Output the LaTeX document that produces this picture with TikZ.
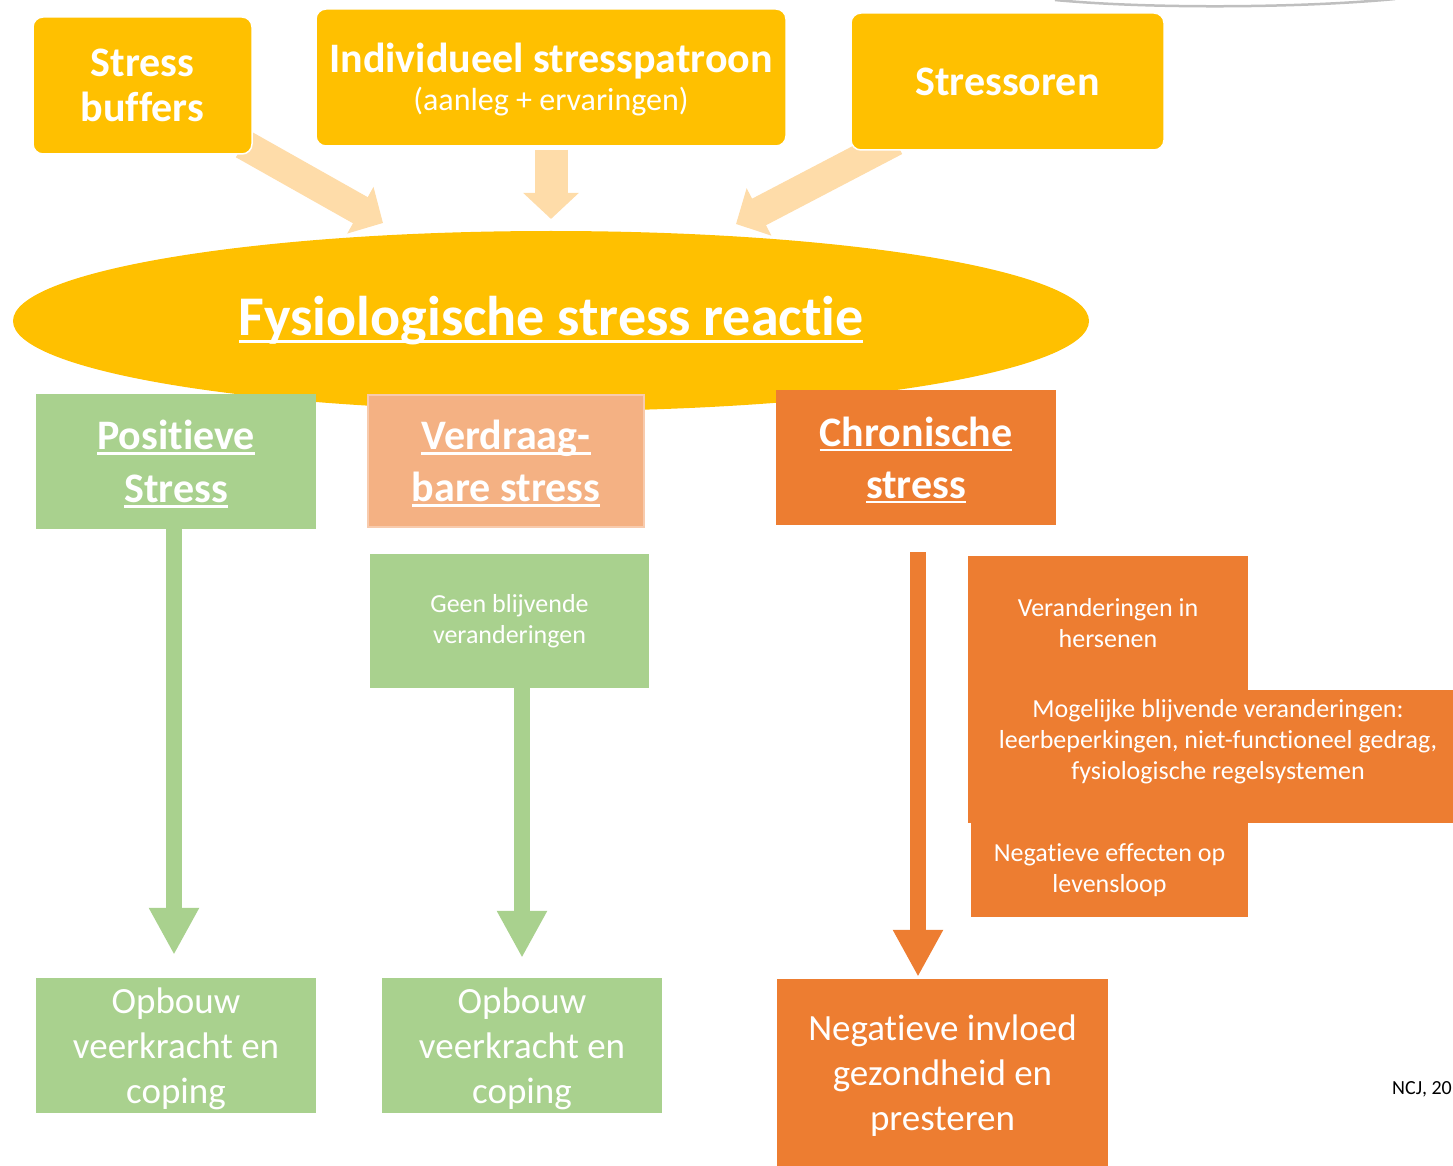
\documentclass[tikz,border=0pt]{standalone}
\usepackage{fontspec}
\setmainfont{Carlito}[Ligatures=NoCommon]
\usetikzlibrary{shapes.geometric,arrows.meta,backgrounds}
\definecolor{gold}{HTML}{FFC000}
\definecolor{pale}{HTML}{FEDCA9}
\definecolor{leaf}{HTML}{A9D18E}
\definecolor{salmon}{HTML}{F4B183}
\definecolor{salmonedge}{HTML}{F8CBAD}
\definecolor{rust}{HTML}{ED7D31}
\newcommand\ulw[1]{\setbox0\hbox{#1}\rlap{\rule[-0.12em]{\wd0}{0.055em}}\box0}
\begin{document}
\begin{tikzpicture}[x=1pt,y=-1pt,
		box/.style = {rectangle, inner sep=0pt, text=white, align=center},
		topbox/.style = {box, fill=gold, draw=white, line width=1.5pt,
			rounded corners=10pt, font=\fontsize{42}{45}\selectfont\bfseries},
		headbox/.style = {box, font=\fontsize{42}{53}\selectfont\bfseries},
		endbox/.style = {box, font=\fontsize{37}{45}\selectfont},
		notebox/.style = {box, fill=rust, font=\fontsize{26}{31}\selectfont},
		fatarrow/.style = {pale, line width=30pt, -{Triangle[length=26pt,width=52pt]}},
		downarrow/.style = {line width=16pt, -{Triangle[length=47pt,width=47pt]}}]
	\useasboundingbox (0,0) rectangle (1453,1166);
	% top row
	\node[topbox, minimum width=219, minimum height=137] (buf) at (142.5,85.5) {Stress\\buffers};
	\node[topbox, minimum width=470, minimum height=137, text depth=1pt] (ind) at (551,77.5)
		{Individueel stresspatroon\\[-7pt]{\fontsize{32}{34}\selectfont\mdseries (aanleg + ervaringen)}};
	\node[topbox, minimum width=313, minimum height=137] (str) at (1007.5,81.5) {Stressoren};
	\coordinate (tipL) at (383,223);
	\coordinate (tipC) at (551,219);
	\coordinate (tipR) at (736,224);
	\begin{scope}[on background layer]
		\draw[fatarrow] ([xshift=-9.5pt,yshift=10.5pt]buf.south east) -- (tipL);
		\draw[fatarrow] ([xshift=45pt,yshift=10pt]str.south west) -- (tipR);
	\end{scope}
	\draw[fatarrow, line width=33pt, -{Triangle[length=26pt,width=54pt]}, shorten <=3pt] (ind.south) -- (tipC);
	% reaction
	\node[ellipse, fill=gold, minimum width=1076, minimum height=180, inner sep=0pt,
		text=white, font=\fontsize{56}{60}\selectfont\bfseries] (fys) at (551,321)
		{\ulw{Fysiologische stress reactie}};
	% three kinds of stress
	\node[headbox, fill=leaf, minimum width=280, minimum height=135, text depth=-5pt] (pos) at (176,461.5)
		{\ulw{Positieve}\\\ulw{Stress}};
	\node[headbox, fill=salmon, draw=salmonedge, line width=2pt, minimum width=276, minimum height=132,
		font=\fontsize{42}{52}\selectfont\bfseries, text depth=-7pt] (ver) at (506,461) {\ulw{Verdraag-}\\\ulw{bare stress}};
	\node[headbox, fill=rust, minimum width=280, minimum height=135, text depth=-8pt,
		font=\fontsize{42}{52}\selectfont\bfseries] (chr) at (916,457.5) {\ulw{Chronische}\\\ulw{stress}};
	\node[notebox, fill=leaf, minimum width=279, minimum height=134] (geen) at (509.5,621)
		{Geen blijvende\\veranderingen};
	% chronic effects
	\node[notebox, minimum width=280, minimum height=134] (hers) at (1108,623) {Veranderingen in\\hersenen};
	\node[notebox, minimum width=500, minimum height=133, text depth=34pt] (blijv) at (1218,756.5)
		{Mogelijke blijvende veranderingen:\\leerbeperkingen, niet-functioneel gedrag,\\fysiologische regelsystemen};
	\node[notebox, minimum width=277, minimum height=94] (lev) at (1109.5,870) {Negatieve effecten op\\levensloop};
	% outcomes
	\node[endbox, fill=leaf, minimum width=280, minimum height=135, text depth=0pt] (opb1) at (176,1045.5)
		{Opbouw\\veerkracht en\\coping};
	\node[endbox, fill=leaf, minimum width=280, minimum height=135, text depth=0pt] (opb2) at (522,1045.5)
		{Opbouw\\veerkracht en\\coping};
	\node[endbox, fill=rust, minimum width=331, minimum height=187, text depth=-5pt] (neg) at (942.5,1072.5)
		{Negatieve invloed\\gezondheid en\\presteren};
	\draw[downarrow, leaf, shorten >=23pt] (pos.south -| 174,0) -- (opb1.north -| 174,0);
	\draw[downarrow, leaf, shorten >=20pt] (geen.south -| opb2.north) -- (opb2.north);
	\draw[downarrow, rust, shorten <=27pt, shorten >=2pt] (chr.south -| 918,0) -- (neg.north -| 918,0);
	\node[anchor=west, inner sep=0pt, font=\fontsize{20}{22}\selectfont] (src) at (1392,1089) {NCJ, 20};
	\draw[gray!50, line width=2.5pt] (1055,0) .. controls (1150,9) and (1300,8) .. (1395,-1);
\end{tikzpicture}
\end{document}
